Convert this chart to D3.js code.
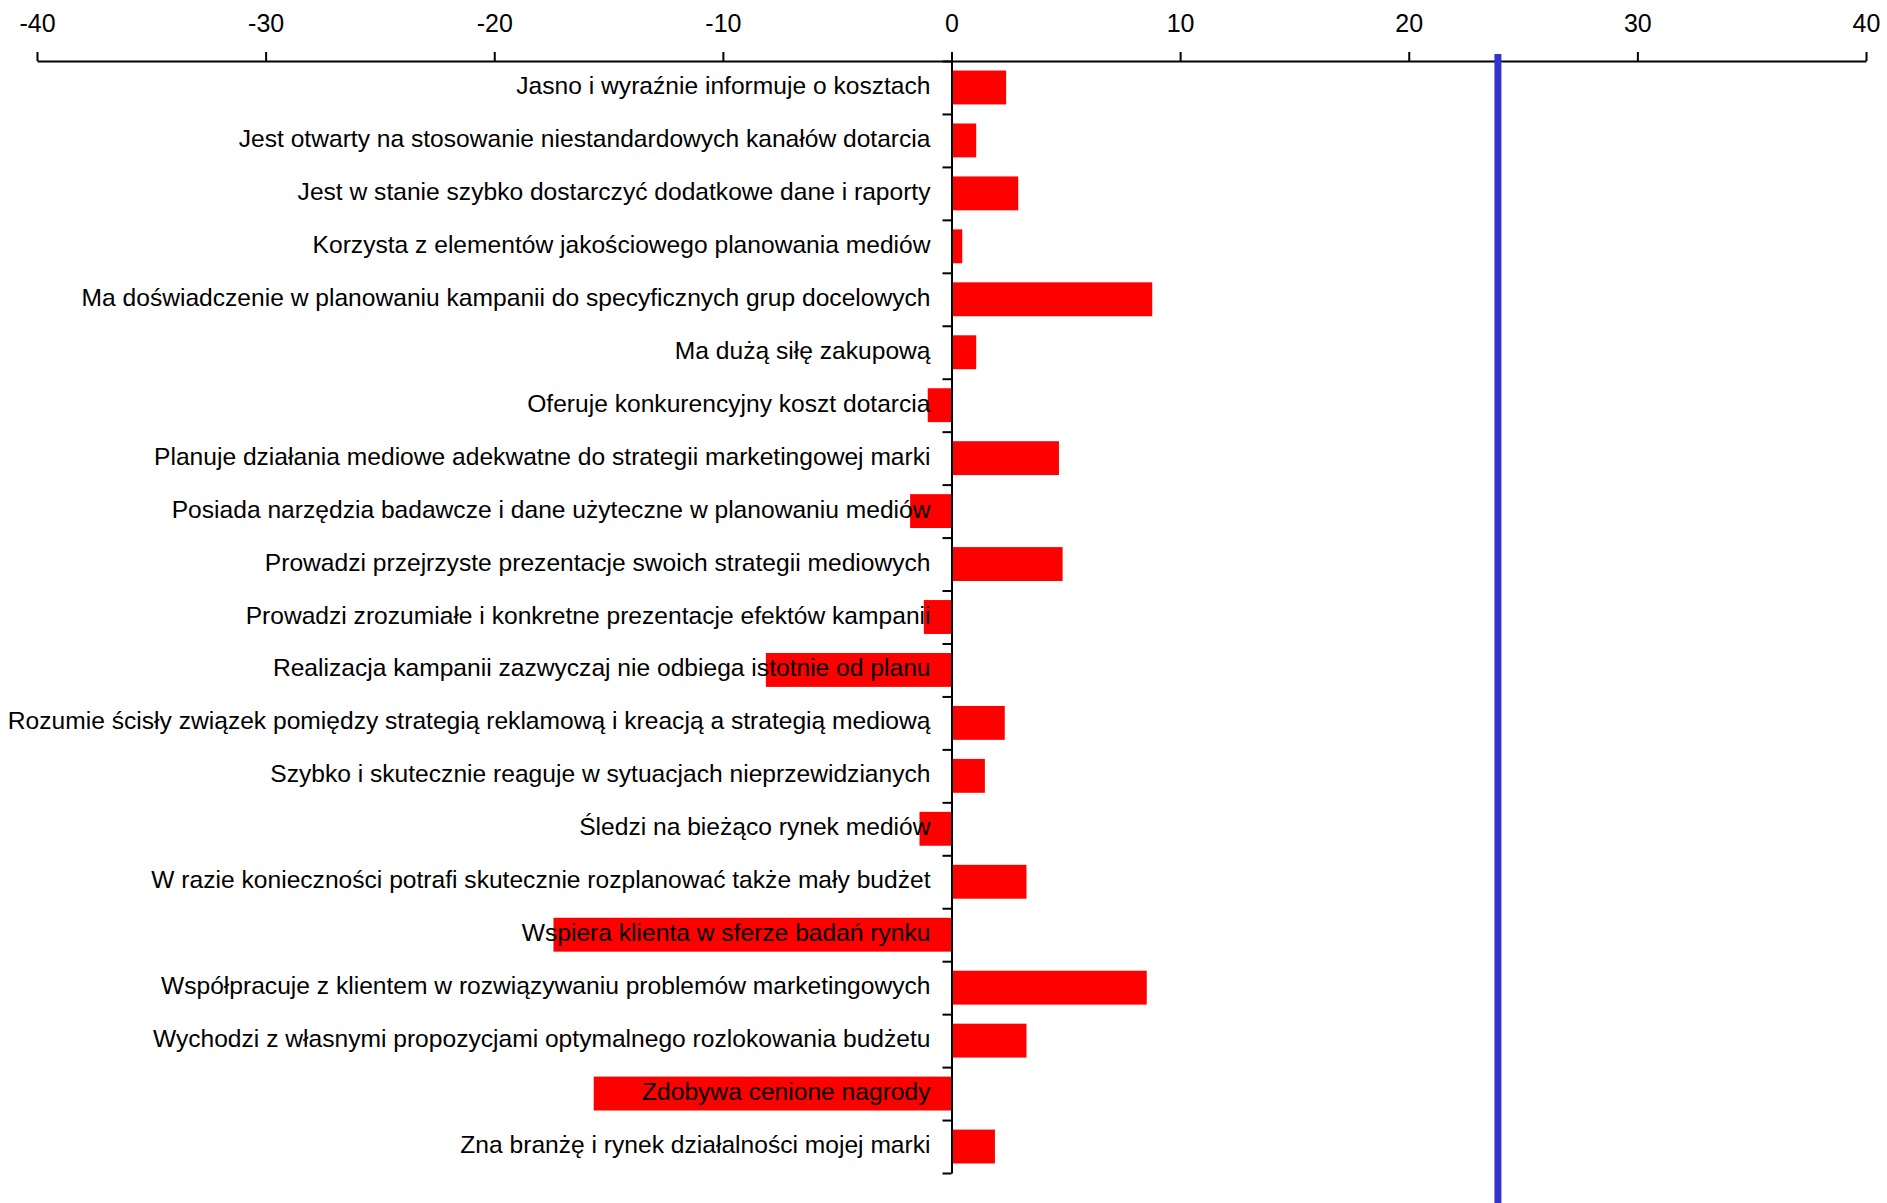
<!DOCTYPE html>
<html>
<head>
<meta charset="utf-8">
<script src="https://cdn.jsdelivr.net/npm/d3@7"></script>
<style>
  body { margin: 0; background: #fff; }
  svg { display: block; }
  text { font-family: "Liberation Sans", Arial, sans-serif; fill: #000; }
</style>
</head>
<body>
<svg id="chart" width="1887" height="1203"></svg>
<script>
const categories = [
  "Jasno i wyraźnie informuje o kosztach",
  "Jest otwarty na stosowanie niestandardowych kanałów dotarcia",
  "Jest w stanie szybko dostarczyć dodatkowe dane i raporty",
  "Korzysta z elementów jakościowego planowania mediów",
  "Ma doświadczenie w planowaniu kampanii do specyficznych grup docelowych",
  "Ma dużą siłę zakupową",
  "Oferuje konkurencyjny koszt dotarcia",
  "Planuje działania mediowe adekwatne do strategii marketingowej marki",
  "Posiada narzędzia badawcze i dane użyteczne w planowaniu mediów",
  "Prowadzi przejrzyste prezentacje swoich strategii mediowych",
  "Prowadzi zrozumiałe i konkretne prezentacje efektów kampanii",
  "Realizacja kampanii zazwyczaj nie odbiega istotnie od planu",
  "Rozumie ścisły związek pomiędzy strategią reklamową i kreacją a strategią mediową",
  "Szybko i skutecznie reaguje w sytuacjach nieprzewidzianych",
  "Śledzi na bieżąco rynek mediów",
  "W razie konieczności potrafi skutecznie rozplanować także mały budżet",
  "Wspiera klienta w sferze badań rynku",
  "Współpracuje z klientem w rozwiązywaniu problemów marketingowych",
  "Wychodzi z własnymi propozycjami optymalnego rozlokowania budżetu",
  "Zdobywa cenione nagrody",
  "Zna branżę i rynek działalności mojej marki"
];
const values = [2.39, 1.08, 2.92, 0.47, 8.78, 1.08, -1.04, 4.70, -1.81, 4.86, -1.21, -8.12, 2.33, 1.46, -1.40, 3.28, -17.41, 8.54, 3.28, -15.65, 1.90];
const xTicks = [-40, -30, -20, -10, 0, 10, 20, 30, 40];
const referenceValue = 23.9;

const svg = d3.select("#chart");
const x = d3.scaleLinear().domain([-40, 40]).range([37, 1866]);
const y = d3.scaleBand().domain(categories).range([61, 1173]).paddingInner(0.36).paddingOuter(0.18);
const yEdge = d3.scaleLinear().domain([0, categories.length]).range([61, 1173]);

// bars
svg.append("g").selectAll("rect").data(categories).join("rect")
  .attr("x", (d, i) => x(Math.min(0, values[i])))
  .attr("y", d => y(d))
  .attr("width", (d, i) => Math.abs(x(values[i]) - x(0)))
  .attr("height", y.bandwidth())
  .attr("fill", "#ff0000");

// top axis
const xAxis = svg.append("g").attr("transform", "translate(0,61)")
  .call(d3.axisTop(x).tickValues(xTicks).tickFormat(d => String(d)).tickSize(9).tickSizeOuter(0).tickPadding(20));
xAxis.select(".domain").attr("stroke", "#000").attr("stroke-width", 2);
xAxis.selectAll(".tick line").attr("stroke", "#000").attr("stroke-width", 2);
xAxis.selectAll(".tick text").style("font-size", "25px").attr("fill", "#000");

// vertical axis at 0
const yAxis = svg.append("g").attr("transform", `translate(${x(0)},0)`)
  .call(d3.axisLeft(yEdge).tickValues(d3.range(categories.length + 1)).tickFormat("").tickSize(9).tickSizeOuter(0));
yAxis.select(".domain").attr("stroke", "#000").attr("stroke-width", 2);
yAxis.selectAll(".tick line").attr("stroke", "#000").attr("stroke-width", 2);

// category labels
svg.append("g").selectAll("text").data(categories).join("text")
  .attr("x", x(0) - 21)
  .attr("y", d => y(d) + y.bandwidth() / 2 - 2)
  .attr("text-anchor", "end")
  .attr("dominant-baseline", "central")
  .style("font-size", "24.6px")
  .text(d => d);

// reference line
svg.append("line")
  .attr("x1", x(referenceValue)).attr("x2", x(referenceValue))
  .attr("y1", 54).attr("y2", 1203)
  .attr("stroke", "#3434cc").attr("stroke-width", 7);
</script>
</body>
</html>
